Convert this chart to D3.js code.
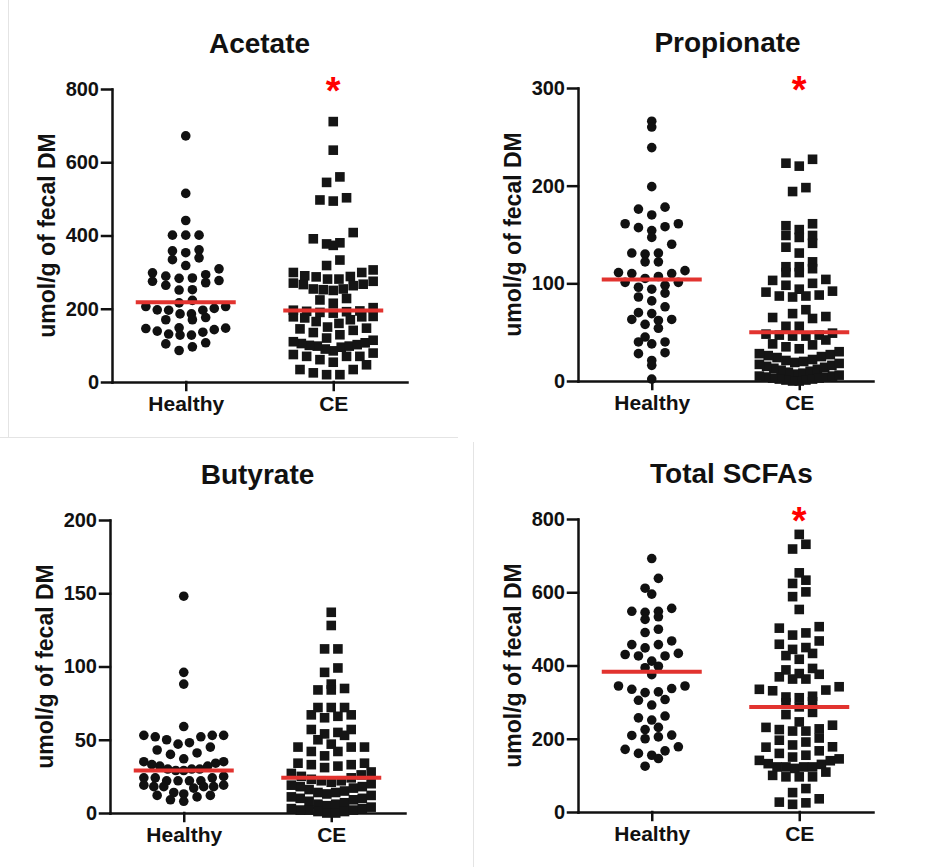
<!DOCTYPE html>
<html>
<head>
<meta charset="utf-8">
<script src="https://cdn.jsdelivr.net/npm/d3@7"></script>
<style>
  body { margin: 0; background: #fff; }
  svg text { font-family: "Liberation Sans", Arial, sans-serif; font-weight: bold; fill: #111; }
</style>
</head>
<body>
<svg id="chart" width="925" height="867"></svg>
<script>
// groups on the x axis
var groups = ["Healthy", "CE"];

// acetate, umol/g of fecal DM
var acetateHealthy = [672, 515, 441, 401, 401, 401, 361, 358, 353, 339, 334, 318, 309, 298, 293, 289, 284, 283, 277, 275,
  271, 264, 252, 251, 223, 216, 206, 206, 201, 197, 196, 196, 186, 186, 176, 170, 170, 148, 147, 146,
  143, 139, 136, 131, 128, 128, 107, 104, 96, 86];
var acetateCE = [711, 633, 560, 545, 503, 497, 494, 408, 391, 380, 377, 373, 333, 318, 306, 299, 299, 290, 288, 287,
  281, 281, 275, 270, 267, 266, 263, 254, 254, 252, 250, 228, 224, 215, 203, 196, 194, 193, 192, 190,
  188, 179, 178, 178, 175, 170, 165, 160, 150, 147, 145, 141, 135, 129, 120, 114, 110, 107, 105, 102,
  100, 98, 98, 95, 90, 85, 79, 75, 70, 70, 70, 61, 54, 47, 34, 34, 25, 20, 20];

// propionate
var propionateHealthy = [266, 260, 239, 199, 178, 176, 170, 161, 161, 158, 157, 154, 147, 140, 131, 131, 130, 122, 122, 113,
  111, 110, 110, 107, 105, 101, 101, 98, 96, 94, 90, 86, 82, 76, 70, 69, 63, 63, 62, 58,
  54, 45, 40, 40, 38, 29, 28, 21, 16, 2];
var propionateCE = [227, 223, 220, 198, 194, 161, 159, 155, 149, 149, 147, 141, 137, 131, 122, 117, 117, 115, 111, 111,
  104, 103, 100, 98, 94, 92, 91, 88, 87, 87, 86, 73, 69, 66, 65, 64, 56, 56, 49, 48,
  47, 47, 46, 46, 42, 38, 37, 35, 33, 30, 28, 27, 26, 25, 24, 22, 21, 20, 19, 18,
  17, 16, 15, 14, 13, 12, 11, 10, 9, 8, 7, 6, 5, 5, 4, 4, 3, 3, 2, 2, 1, 1, 0, 0];

// butyrate
var butyrateHealthy = [148, 96, 88, 59, 53, 53, 53, 52, 52, 50, 48, 47, 45, 43, 41, 40, 37, 35, 35, 34,
  33, 32, 32, 30, 30, 30, 29, 29, 25, 24, 24, 24, 22, 22, 22, 22, 19, 19, 18, 18,
  18, 18, 17, 14, 13, 12, 12, 11, 9, 8];
var butyrateCE = [137, 128, 112, 112, 99, 96, 88, 85, 84, 84, 72, 72, 72, 67, 67, 66, 65, 57, 57, 55,
  54, 53, 50, 47, 45, 45, 45, 42, 42, 39, 34, 34, 33, 33, 32, 31, 28, 27, 26, 25,
  24, 23, 22, 22, 21, 20, 19, 18, 18, 17, 16, 15, 14, 14, 13, 12, 11, 10, 10, 9,
  8, 7, 6, 6, 5, 4, 3, 3, 2, 2, 2, 1, 1, 0, 0];

// total SCFAs
var totalHealthy = [692, 638, 611, 595, 556, 548, 548, 545, 533, 526, 499, 490, 467, 457, 457, 448, 433, 430, 426, 426,
  412, 398, 394, 375, 344, 344, 337, 335, 328, 326, 307, 305, 292, 262, 257, 251, 231, 225, 210, 209,
  205, 200, 178, 171, 167, 160, 155, 146, 125];
var totalCE = [758, 731, 718, 653, 633, 624, 601, 588, 553, 506, 502, 489, 483, 467, 458, 449, 444, 433, 427, 417,
  392, 388, 378, 376, 369, 363, 363, 342, 335, 333, 331, 316, 314, 312, 301, 298, 287, 272, 266, 246,
  237, 231, 227, 225, 221, 221, 202, 196, 191, 183, 178, 177, 167, 160, 155, 150, 145, 141, 140, 132,
  130, 123, 123, 123, 123, 119, 109, 100, 96, 96, 96, 64, 53, 36, 27, 25, 21];

// median lines [Healthy, CE]
var acetateMedian = [218, 195];
var propionateMedian = [104, 50];
var butyrateMedian = [29, 24];
var totalMedian = [383, 287];

// tick labels
var acetateTicks = [0, 200, 400, 600, 800];
var propionateTicks = [0, 100, 200, 300];
var butyrateTicks = [0, 50, 100, 150, 200];
var totalTicks = [0, 200, 400, 600, 800];

// which groups got a significance star
var acetateStar = [false, true];
var propionateStar = [false, true];
var butyrateStar = [false, false];
var totalStar = [false, true];

var panels = [
  {title: "Acetate", data: [acetateHealthy, acetateCE], med: acetateMedian, ticks: acetateTicks, star: acetateStar, ox: 0, oy: 0, tdx: 0},
  {title: "Propionate", data: [propionateHealthy, propionateCE], med: propionateMedian, ticks: propionateTicks, star: propionateStar, ox: 466, oy: -1, tdx: 2},
  {title: "Butyrate", data: [butyrateHealthy, butyrateCE], med: butyrateMedian, ticks: butyrateTicks, star: butyrateStar, ox: -2, oy: 431, tdx: 0},
  {title: "Total SCFAs", data: [totalHealthy, totalCE], med: totalMedian, ticks: totalTicks, star: totalStar, ox: 466, oy: 430, tdx: 6}
];

var svg = d3.select("#chart");

// faint frame lines left over from the pasted figure
svg.append("line").attr("x1", 8.5).attr("x2", 8.5).attr("y1", 0).attr("y2", 437).attr("stroke", "#e4e4e4");
svg.append("line").attr("x1", 0).attr("x2", 458).attr("y1", 437.5).attr("y2", 437.5).attr("stroke", "#e4e4e4");
svg.append("line").attr("x1", 473.5).attr("x2", 473.5).attr("y1", 442).attr("y2", 867).attr("stroke", "#e4e4e4");

var markSize = 9.6;
var colStep = 13.3;
var rowH = 12;
var maxCol = 3;

// prism-like scatter: bin points into rows, spread each row around the centre
function swarm(values, y, cx) {
  var y0 = y(0);
  var rows = d3.groups(values, function(v) { return Math.round((y0 - y(v)) / rowH); });
  var pts = [];
  rows.forEach(function(r) {
    var vals = r[1].slice().sort(d3.ascending);
    var n = vals.length;
    var step = n - 1 > 2 * maxCol ? (2 * maxCol * colStep) / (n - 1) : colStep;
    // centre-out order so the middle gets filled first
    var order = [];
    for (var i = 0; i < n; i++) order.push(i - (n - 1) / 2);
    order.sort(function(a, b) { return Math.abs(a) - Math.abs(b) || a - b; });
    vals.forEach(function(v, i) {
      pts.push({v: v, y: y(v), x: cx + order[i] * step});
    });
  });
  return pts;
}

panels.forEach(function(pn) {
  var left = pn.ox + 112, right = pn.ox + 407;
  var top = pn.oy + 89, bottom = pn.oy + 382;

  var y = d3.scaleLinear().domain([0, d3.max(pn.ticks)]).range([bottom, top]);
  var x = d3.scalePoint().domain(groups).range([left, right]).padding(0.5);

  var g = svg.append("g");

  // title
  g.append("text")
    .attr("x", (left + right) / 2 + pn.tdx)
    .attr("y", pn.oy + 53)
    .attr("text-anchor", "middle")
    .style("font-size", "28px")
    .text(pn.title);

  // y label
  g.append("text")
    .attr("transform", "translate(" + (pn.ox + 55) + "," + ((top + bottom) / 2) + ") rotate(-90)")
    .attr("text-anchor", "middle")
    .style("font-size", "23px")
    .text("umol/g of fecal DM");

  // axes
  var yAxis = g.append("g")
    .attr("transform", "translate(" + left + ",0)")
    .call(d3.axisLeft(y).tickValues(pn.ticks).tickSize(10).tickSizeOuter(0).tickPadding(3));
  yAxis.selectAll("text").style("font-size", "20px");

  var xAxis = g.append("g")
    .attr("transform", "translate(0," + bottom + ")")
    .call(d3.axisBottom(x).tickSize(8).tickSizeOuter(0).tickPadding(6));
  xAxis.selectAll("text").style("font-size", "21px");

  g.selectAll(".domain, .tick line")
    .attr("stroke", "#111")
    .attr("stroke-width", 2.5)
    .attr("stroke-linecap", "square");

  groups.forEach(function(name, gi) {
    var cx = x(name);
    var pts = swarm(pn.data[gi], y, cx);

    if (gi === 0) {
      g.selectAll(null).data(pts).enter().append("circle")
        .attr("cx", function(d) { return d.x; })
        .attr("cy", function(d) { return d.y; })
        .attr("r", markSize / 2)
        .attr("fill", "#111");
    } else {
      g.selectAll(null).data(pts).enter().append("rect")
        .attr("x", function(d) { return d.x - markSize / 2; })
        .attr("y", function(d) { return d.y - markSize / 2; })
        .attr("width", markSize)
        .attr("height", markSize)
        .attr("fill", "#151515");
    }

    // median line
    g.append("line")
      .attr("x1", cx - 50).attr("x2", cx + 50)
      .attr("y1", y(pn.med[gi])).attr("y2", y(pn.med[gi]))
      .attr("stroke", "#e2332f")
      .attr("stroke-width", 4);

    if (pn.star[gi]) {
      g.append("text")
        .attr("x", cx)
        .attr("y", top + 15)
        .attr("text-anchor", "middle")
        .style("font-size", "38px")
        .style("fill", "#ff0000")
        .text("*");
    }
  });
});
</script>
</body>
</html>
